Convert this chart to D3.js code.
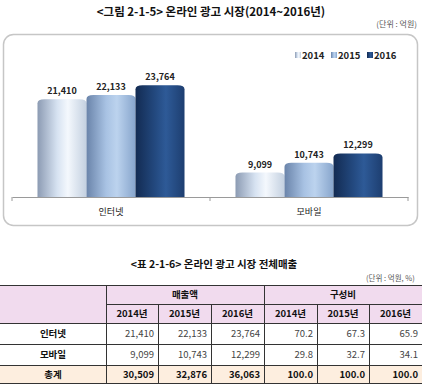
<!DOCTYPE html>
<html>
<head>
<meta charset="utf-8">
<script src="https://cdn.jsdelivr.net/npm/d3@7"></script>
<style>
  body { margin: 0; background: #fff; }
  svg { display: block; font-family: "Noto Sans CJK KR", "Noto Sans", sans-serif; }
</style>
</head>
<body>
<svg id="chart" width="422" height="384"></svg>
<script>
// chart data
var years = ["2014", "2015", "2016"];
var categories = ["인터넷", "모바일"];
var internetSales = [21410, 22133, 23764];
var mobileSales = [9099, 10743, 12299];
// table data
var internetShare = [70.2, 67.3, 65.9];
var mobileShare = [29.8, 32.7, 34.1];
var totalSales = [30509, 32876, 36063];
var totalShare = [100.0, 100.0, 100.0];

var salesByCat = { "인터넷": internetSales, "모바일": mobileSales };

var svg = d3.select("#chart");
var defs = svg.append("defs");

// bar gradients, one per year (left edge darker, highlight a bit right of centre)
var grads = {
  "2014": ["#8c9bb3", "#d6e2f1", "#f4f8fd", "#c3d0e0"],
  "2015": ["#6a84aa", "#a8c2e3", "#bcd3ee", "#87a5cc"],
  "2016": ["#132b52", "#23497f", "#2e5a97", "#1d3e70"]
};
years.forEach(function (y) {
  var g = defs.append("linearGradient").attr("id", "g" + y)
    .attr("x1", 0).attr("x2", 1).attr("y1", 0).attr("y2", 0);
  [0, 0.4, 0.62, 1].forEach(function (o, i) {
    g.append("stop").attr("offset", o).attr("stop-color", grads[y][i]);
  });
});

// titles
svg.append("text").attr("x", 211).attr("y", 16).attr("text-anchor", "middle")
  .style("font-size", "11.5px").style("font-weight", "bold").attr("fill", "#111")
  .text("<그림 2-1-5> 온라인 광고 시장(2014~2016년)");
svg.append("text").attr("x", 417).attr("y", 27).attr("text-anchor", "end")
  .style("font-size", "8px").attr("fill", "#555").text("(단위 : 억원)");

// chart frame
svg.append("rect").attr("x", 3.5).attr("y", 34.5).attr("width", 414).attr("height", 191)
  .attr("rx", 10).attr("fill", "#fff").attr("stroke", "#c6c6c6").attr("stroke-width", 1.5);

var x0 = d3.scaleBand().domain(categories).range([12, 408]);
var x1 = d3.scaleBand().domain(years).range([0, x0.bandwidth()]).paddingInner(0).paddingOuter(0.52);
var y = d3.scaleLinear().domain([5000, 30000]).range([197, 48]);

// bars with rounded (cylinder-like) tops
function barPath(x, w, top, bottom) {
  var rx = 7, ry = 4;
  return "M" + x + "," + bottom + "V" + (top + ry) +
    "Q" + x + "," + top + " " + (x + rx) + "," + top +
    "H" + (x + w - rx) +
    "Q" + (x + w) + "," + top + " " + (x + w) + "," + (top + ry) +
    "V" + bottom + "Z";
}

var groups = svg.selectAll(".grp").data(categories).enter().append("g")
  .attr("transform", function (c) { return "translate(" + x0(c) + ",0)"; });

groups.selectAll("path").data(function (c) {
  return years.map(function (yr, i) { return { year: yr, v: salesByCat[c][i] }; });
}).enter().append("path")
  .attr("d", function (d) { return barPath(x1(d.year), x1.bandwidth(), y(d.v), y(5000)); })
  .attr("fill", function (d) { return "url(#g" + d.year + ")"; });

groups.selectAll(".lbl").data(function (c) {
  return years.map(function (yr, i) { return { year: yr, v: salesByCat[c][i] }; });
}).enter().append("text")
  .attr("x", function (d) { return x1(d.year) + x1.bandwidth() / 2; })
  .attr("y", function (d) { return y(d.v) - 5; })
  .attr("text-anchor", "middle").style("font-size", "9px").style("font-weight", "bold")
  .attr("fill", "#222").text(function (d) { return d3.format(",")(d.v); });

// axis
var axisG = svg.append("g").attr("transform", "translate(0,197)")
  .call(d3.axisBottom(x0).tickSize(0).tickPadding(12));
axisG.select(".domain").attr("stroke", "#9a9a9a");
axisG.selectAll("text").style("font-size", "9px").attr("fill", "#222")
  .style("font-family", "'Noto Sans CJK KR', sans-serif");
axisG.selectAll(".sep").data([12, 210, 408]).enter().append("line")
  .attr("x1", function (d) { return d; }).attr("x2", function (d) { return d; })
  .attr("y1", 0).attr("y2", 4).attr("stroke", "#9a9a9a");

// legend
var legX = [295, 331, 367];
var leg = svg.selectAll(".leg").data(years).enter().append("g")
  .attr("transform", function (d, i) { return "translate(" + legX[i] + ",55)"; });
leg.append("rect").attr("x", 0).attr("y", -3).attr("width", 6).attr("height", 6)
  .attr("fill", function (d) { return "url(#g" + d + ")"; });
leg.append("text").attr("x", 7).attr("y", 3.5).style("font-size", "9.5px").style("font-weight", "bold")
  .attr("fill", "#222").text(function (d) { return d; });

// table title
svg.append("text").attr("x", 214).attr("y", 268).attr("text-anchor", "middle")
  .style("font-size", "10.5px").style("font-weight", "bold").attr("fill", "#111")
  .text("<표 2-1-6> 온라인 광고 시장 전체매출");
svg.append("text").attr("x", 366).attr("y", 281)
  .style("font-size", "7.5px").attr("fill", "#555").text("(단위 : 억원, %)");

// table
var colX = [0, 106, 158, 211, 264, 317, 369, 422];
var rowY = [285, 304, 323, 344, 365, 383];
var t = svg.append("g");

t.append("rect").attr("x", 0).attr("y", rowY[0]).attr("width", 422).attr("height", rowY[2] - rowY[0])
  .attr("fill", "#f1dbee");
t.append("rect").attr("x", 0).attr("y", rowY[4]).attr("width", 422).attr("height", rowY[5] - rowY[4])
  .attr("fill", "#fdeedf");

var lineCol = "#333";
// horizontal lines
[rowY[0], rowY[2], rowY[3], rowY[4], rowY[5]].forEach(function (yy) {
  t.append("line").attr("x1", 0).attr("x2", 422).attr("y1", yy + 0.5).attr("y2", yy + 0.5)
    .attr("stroke", lineCol);
});
t.append("line").attr("x1", colX[1]).attr("x2", 422).attr("y1", rowY[1] + 0.5).attr("y2", rowY[1] + 0.5)
  .attr("stroke", lineCol);
// vertical lines
colX.slice(1, 7).forEach(function (xx, i) {
  var top = (i === 0 || i === 3) ? rowY[0] : rowY[1];
  t.append("line").attr("x1", xx + 0.5).attr("x2", xx + 0.5).attr("y1", top).attr("y2", rowY[5])
    .attr("stroke", lineCol);
});

function cellText(txt, col, row, bold, anchor, size) {
  var xx = anchor === "end" ? colX[col + 1] - 4 : (colX[col] + colX[col + 1]) / 2;
  t.append("text").attr("x", xx).attr("y", (rowY[row] + rowY[row + 1]) / 2 + 3.5)
    .attr("text-anchor", anchor).style("font-size", (size || 9.5) + "px")
    .style("font-weight", bold ? "bold" : "normal")
    .attr("fill", bold ? "#111" : "#444").text(txt);
}

// header
t.append("text").attr("x", (colX[1] + colX[4]) / 2).attr("y", 298).attr("text-anchor", "middle")
  .style("font-size", "9.5px").style("font-weight", "bold").attr("fill", "#111").text("매출액");
t.append("text").attr("x", (colX[4] + colX[7]) / 2).attr("y", 298).attr("text-anchor", "middle")
  .style("font-size", "9.5px").style("font-weight", "bold").attr("fill", "#111").text("구성비");
years.concat(years).forEach(function (yr, i) {
  cellText(yr + "년", i + 1, 1, true, "middle");
});

// body rows
var fmtN = d3.format(","), fmtP = d3.format(".1f");
var bodyRows = [
  { label: "인터넷", sales: internetSales, share: internetShare, bold: false },
  { label: "모바일", sales: mobileSales, share: mobileShare, bold: false },
  { label: "총계", sales: totalSales, share: totalShare, bold: true }
];
bodyRows.forEach(function (r, ri) {
  cellText(r.label, 0, ri + 2, true, "middle");
  r.sales.forEach(function (v, i) { cellText(fmtN(v), i + 1, ri + 2, r.bold, "end"); });
  r.share.forEach(function (v, i) { cellText(fmtP(v), i + 4, ri + 2, r.bold, "end"); });
});
</script>
</body>
</html>
